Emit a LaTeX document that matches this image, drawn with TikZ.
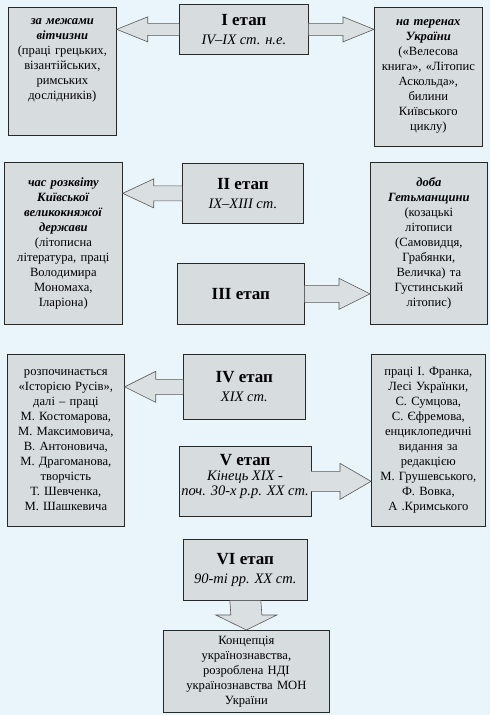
\documentclass[tikz,border=0pt]{standalone}
\usepackage{fontspec}
\setmainfont{Liberation Serif}
\usetikzlibrary{positioning,calc}
\definecolor{bgBlue}{RGB}{234,245,251}
\definecolor{boxGray}{RGB}{215,220,223}
\definecolor{arrGray}{RGB}{218,223,226}
\definecolor{edgeDark}{RGB}{40,40,40}

% block arrows: stage, target, shaft half-width, head half-width
\newcommand{\toleft}[4]{%
  \draw[blk] ($(#1.west)+(0,#3)$) -- ($(#2.east|-#1.west)+(31,#3)$) -- ($(#2.east|-#1.west)+(31,#4)$)
    -- (#2.east|-#1.west) -- ($(#2.east|-#1.west)+(31,-#4)$) -- ($(#2.east|-#1.west)+(31,-#3)$)
    -- ($(#1.west)+(0,-#3)$);}
\newcommand{\toright}[4]{%
  \draw[blk] ($(#1.east)+(0,#3)$) -- ($(#2.west|-#1.east)+(-31,#3)$) -- ($(#2.west|-#1.east)+(-31,#4)$)
    -- (#2.west|-#1.east) -- ($(#2.west|-#1.east)+(-31,-#4)$) -- ($(#2.west|-#1.east)+(-31,-#3)$)
    -- ($(#1.east)+(0,-#3)$);}

\begin{document}
\begin{tikzpicture}[
    x=1pt, y=-1pt,
    side/.style={draw=edgeDark, fill=boxGray, line width=0.7pt, anchor=north west, align=center,
                 inner sep=2pt, font=\fontsize{12.6}{15}\selectfont},
    stage/.style={draw=edgeDark, fill=boxGray, line width=0.7pt, anchor=north west, align=center,
                  inner sep=2pt, font=\fontsize{14.5}{19}\selectfont},
    blk/.style={draw=black!65, fill=arrGray, line width=0.6pt, line join=miter},
]
\fill[bgBlue] (0,0) rectangle (490,715);
\useasboundingbox (0,0) rectangle (490,715);

% Row 1
\node[side, minimum width=106, minimum height=128, text width=104] (out1) at (8,7)
  {\textbf{\textit{за межами}}\\\textbf{\textit{вітчизни}}\\(праці грецьких,\\візантійських,\\римських\\дослідників)\\[0pt]\rule{0pt}{21pt}};
\node[stage, minimum width=129, minimum height=50] (s1) at (179,4)
  {{\fontsize{17}{19}\selectfont\bfseries I етап}\\\textit{IV–IX ст. н.е.}};
\node[side, minimum width=106, minimum height=139, text width=104] (in1) at (374,7)
  {\textbf{\textit{на теренах}}\\\textbf{\textit{України}}\\(«Велесова\\книга», «Літопис\\Аскольда»,\\билини\\Київського\\циклу)};

% Row 2
\node[side, minimum width=116, minimum height=162, text width=114] (out2) at (4,162)
  {\textbf{\textit{час розквіту}}\\\textbf{\textit{Київської}}\\\textbf{\textit{великокняжої}}\\\textbf{\textit{держави}}\\(літописна\\література, праці\\Володимира\\Мономаха,\\Іларіона)};
\node[stage, minimum width=121, minimum height=60] (s2) at (182,163)
  {{\fontsize{17}{19}\selectfont\bfseries II етап}\\\textit{IX–XIII ст.}};
\node[stage, minimum width=127, minimum height=61] (s3) at (177,263)
  {{\fontsize{17}{19}\selectfont\bfseries III етап}};
\node[side, minimum width=115, minimum height=162, text width=113] (in2) at (370,162)
  {\textbf{\textit{доба}}\\\textbf{\textit{Гетьманщини}}\\(козацькі\\літописи\\(Самовидця,\\Грабянки,\\Величка) та\\Густинський\\літопис)};

% Row 3
\node[side, minimum width=115, minimum height=172, text width=113] (out3) at (7,354)
  {розпочинається\\«Історією Русів»,\\далі – праці\\М. Костомарова,\\М. Максимовича,\\В. Антоновича,\\М. Драгоманова,\\творчість\\Т. Шевченка,\\М. Шашкевича};
\node[stage, minimum width=122, minimum height=65] (s4) at (183,354)
  {{\fontsize{17}{19}\selectfont\bfseries IV етап}\\\textit{XIX ст.}};
\node[stage, minimum width=128, minimum height=70] (s5) at (179,446)
  {{\fontsize{17}{19}\selectfont\bfseries V етап}\\[-4pt]\textit{Кінець XIX -}\\[-4pt]\textit{поч. 30-х р.р. XX ст.}\\[-6pt]\mbox{}};
\node[side, minimum width=112, minimum height=172, text width=110] (in3) at (371,354)
  {праці І. Франка,\\Лесі Українки,\\С. Сумцова,\\С. Єфремова,\\енциклопедичні\\видання за\\редакцією\\М. Грушевського,\\Ф. Вовка,\\А .Кримського};

% Row 4
\node[stage, minimum width=124, minimum height=61] (s6) at (183,539)
  {{\fontsize{17}{19}\selectfont\bfseries VI етап}\\\textit{90-ті рр. XX ст.}};
\node[side, minimum width=164, minimum height=82, text width=162] (con) at (163,630)
  {Концепція\\українознавства,\\розроблена НДІ\\українознавства МОН\\України};

% Arrows
\toleft{s1}{out1}{6}{12.5}
\toright{s1}{in1}{6}{12.5}
\toleft{s2}{out2}{7.5}{14.5}
\toright{s3}{in2}{8.5}{15.5}
\toleft{s4}{out3}{7.5}{15.5}
\toright{s5}{in3}{10}{18}
\draw[blk] ($(s6.south)+(-15.5,0)$) -- ($(con.north)+(-15.5,-15)$) -- ($(con.north)+(-30.5,-15)$)
  -- (con.north) -- ($(con.north)+(30.5,-15)$) -- ($(con.north)+(15.5,-15)$) -- ($(s6.south)+(15.5,0)$);
\end{tikzpicture}
\end{document}
